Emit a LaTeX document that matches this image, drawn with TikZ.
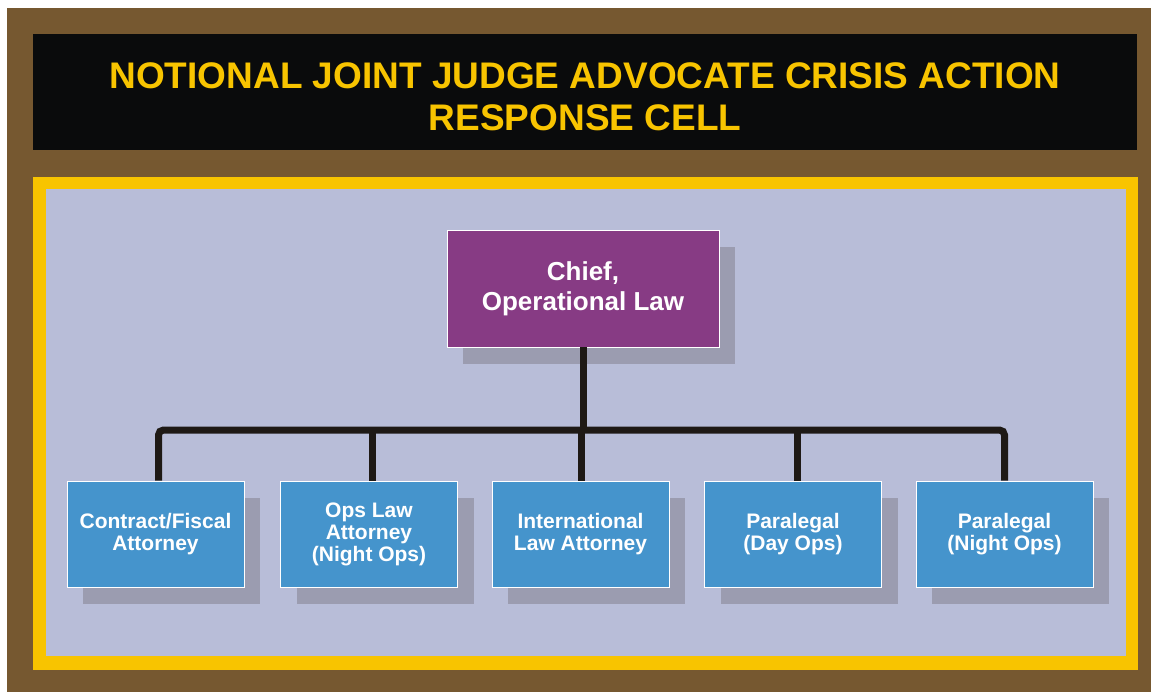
\documentclass[tikz,border=0pt]{standalone}
\usepackage{fontspec}
\setmainfont{Liberation Sans}
\usetikzlibrary{shadows}
\definecolor{frame}{HTML}{765830}
\definecolor{titlebg}{HTML}{0A0B0C}
\definecolor{gold}{HTML}{F8C400}
\definecolor{lavender}{HTML}{B8BDD8}
\definecolor{shadowgray}{HTML}{9B9CB0}
\definecolor{chiefpurple}{HTML}{873B84}
\definecolor{staffblue}{HTML}{4594CC}
\definecolor{wire}{HTML}{1E1915}
\begin{document}
\begin{tikzpicture}[x=1pt,y=-1pt,
  orgbox/.style={draw=white,line width=0.8pt,text=white,align=center,inner sep=0pt,
    drop shadow={shadow xshift=16pt,shadow yshift=-17pt,fill=shadowgray,opacity=1}},
  staff/.style={orgbox,fill=staffblue,minimum width=177pt,minimum height=106pt,font=\fontsize{21}{22}\selectfont\bfseries},
  wireline/.style={draw=wire,line width=7pt}]
  \useasboundingbox (0,0) rectangle (1151,692);
  \fill[frame] (7,8) rectangle (1151,692);
  \fill[titlebg] (33,34) rectangle (1137,150);
  \fill[gold] (33,177) rectangle (1138,670);
  \fill[lavender] (46,189) rectangle (1126,656);
  \node[text=gold,align=center,font=\fontsize{37}{42}\selectfont\bfseries] (title) at (585,97) {NOTIONAL JOINT JUDGE ADVOCATE CRISIS ACTION\\RESPONSE CELL};
  \node[orgbox,fill=chiefpurple,minimum width=272pt,minimum height=117pt,font=\fontsize{26}{30}\selectfont\bfseries] (chief) at (583,288.5) {Chief,\\Operational Law};
  \node[staff] (contract) at (155.5,534) {Contract/Fiscal\\Attorney};
  \node[staff] (opslaw) at (369,534) {Ops Law\\Attorney\\(Night Ops)};
  \node[staff] (intlaw) at (580.5,534) {International\\Law Attorney};
  \node[staff] (paraday) at (793,534) {Paralegal\\(Day Ops)};
  \node[staff] (paranight) at (1004.5,534) {Paralegal\\(Night Ops)};
  % bus line
  \coordinate (bus) at (583,430);
  \draw[wireline,rounded corners=5pt] ([xshift=3pt]contract.north) |- (bus) -| (paranight.north);
  \draw[wireline] (chief.south) -- (bus);
  \draw[wireline] ([xshift=3pt]opslaw.north) -- ([xshift=3pt]opslaw.north |- bus);
  \draw[wireline] ([xshift=1pt]intlaw.north) -- ([xshift=1pt]intlaw.north |- bus);
  \draw[wireline] ([xshift=4pt]paraday.north) -- ([xshift=4pt]paraday.north |- bus);
\end{tikzpicture}
\end{document}
